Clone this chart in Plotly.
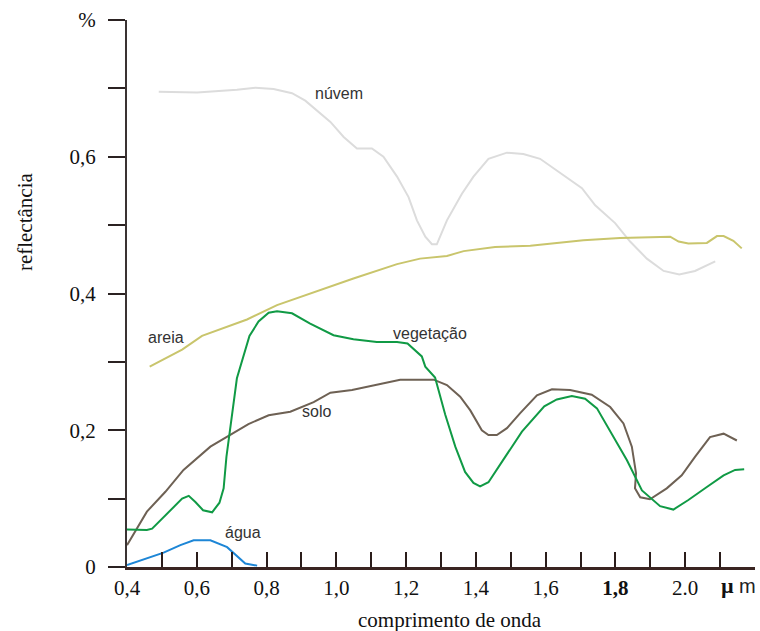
import plotly.graph_objects as go

# ---- data (wavelength in µm, reflectance as fraction) ----
nuvem_x = [0.491, 0.601, 0.715, 0.768, 0.820, 0.873, 0.911, 0.983, 1.021, 1.059, 1.102, 1.135,
           1.174, 1.207, 1.231, 1.255, 1.274, 1.288, 1.317, 1.360, 1.393, 1.436, 1.489, 1.536,
           1.584, 1.651, 1.704, 1.742, 1.799, 1.842, 1.890, 1.938, 1.983, 2.028, 2.086]
nuvem_y = [0.695, 0.694, 0.698, 0.701, 0.699, 0.693, 0.682, 0.651, 0.629, 0.612, 0.612, 0.600,
           0.571, 0.541, 0.507, 0.483, 0.472, 0.472, 0.507, 0.546, 0.571, 0.597, 0.606, 0.604,
           0.597, 0.573, 0.554, 0.529, 0.503, 0.476, 0.451, 0.433, 0.428, 0.433, 0.447]

areia_x = [0.465, 0.558, 0.615, 0.744, 0.830, 0.935, 1.049, 1.174, 1.240, 1.317, 1.365, 1.455,
           1.556, 1.708, 1.813, 1.957, 1.981, 2.009, 2.062, 2.091, 2.110, 2.138, 2.162]
areia_y = [0.293, 0.318, 0.338, 0.362, 0.383, 0.402, 0.422, 0.443, 0.451, 0.455, 0.462, 0.468,
           0.470, 0.478, 0.481, 0.483, 0.476, 0.473, 0.474, 0.484, 0.484, 0.477, 0.466]

veg_x = [0.400, 0.457, 0.472, 0.524, 0.558, 0.577, 0.596, 0.618, 0.644, 0.665, 0.677, 0.685,
         0.696, 0.715, 0.751, 0.777, 0.806, 0.830, 0.873, 0.925, 0.992, 1.049, 1.116, 1.174,
         1.204, 1.245, 1.255, 1.283, 1.312, 1.341, 1.369, 1.393, 1.412, 1.436, 1.484, 1.532,
         1.596, 1.632, 1.675, 1.713, 1.747, 1.790, 1.833, 1.876, 1.928, 1.966, 2.009, 2.062,
         2.110, 2.143, 2.169]
veg_y = [0.055, 0.054, 0.056, 0.082, 0.100, 0.104, 0.095, 0.083, 0.080, 0.094, 0.115, 0.161,
         0.205, 0.276, 0.338, 0.359, 0.372, 0.374, 0.371, 0.356, 0.339, 0.333, 0.329, 0.329,
         0.327, 0.308, 0.293, 0.277, 0.223, 0.176, 0.139, 0.123, 0.118, 0.124, 0.161, 0.198,
         0.235, 0.245, 0.250, 0.246, 0.232, 0.195, 0.156, 0.112, 0.089, 0.084, 0.098, 0.117,
         0.134, 0.142, 0.143]

solo_x = [0.400, 0.457, 0.510, 0.562, 0.639, 0.696, 0.748, 0.806, 0.868, 0.935, 0.983, 1.045,
          1.116, 1.183, 1.279, 1.317, 1.355, 1.384, 1.417, 1.436, 1.460, 1.489, 1.527, 1.575,
          1.618, 1.670, 1.732, 1.785, 1.823, 1.847, 1.859, 1.856, 1.871, 1.899, 1.947, 1.990,
          2.028, 2.071, 2.110, 2.148]
solo_y = [0.032, 0.081, 0.110, 0.142, 0.176, 0.193, 0.209, 0.222, 0.227, 0.241, 0.255, 0.259,
          0.267, 0.274, 0.274, 0.266, 0.249, 0.229, 0.200, 0.193, 0.193, 0.203, 0.225, 0.251,
          0.260, 0.259, 0.252, 0.234, 0.210, 0.176, 0.137, 0.115, 0.102, 0.099, 0.115, 0.134,
          0.161, 0.190, 0.195, 0.185]

agua_x = [0.400, 0.505, 0.553, 0.591, 0.639, 0.687, 0.739, 0.773]
agua_y = [0.003, 0.021, 0.032, 0.039, 0.039, 0.029, 0.005, 0.002]

x_tickvals = [0.4, 0.5, 0.6, 0.7, 0.8, 0.9, 1.0, 1.1, 1.2, 1.3, 1.4, 1.5, 1.6, 1.7, 1.8, 1.9,
              2.0, 2.1, 2.2]
x_ticktext = ["0,4", "", "0,6", "", "0,8", "", "1,0", "", "1,2", "", "1,4", "", "1,6", "",
              "<b>1,8</b>", "", "2.0", "", ""]
y_tickvals = [0, 0.1, 0.2, 0.3, 0.4, 0.5, 0.6, 0.7, 0.8]
y_ticktext = ["0", "", "0,2", "", "0,4", "", "0,6", "", "%"]

series = [
    ("núvem", nuvem_x, nuvem_y, "#dcdcdc"),
    ("areia", areia_x, areia_y, "#c9c56c"),
    ("solo", solo_x, solo_y, "#6e6154"),
    ("vegetação", veg_x, veg_y, "#109a45"),
    ("água", agua_x, agua_y, "#1d86d6"),
]

labels = [
    ("núvem", 1.008, 0.693),
    ("areia", 0.511, 0.335),
    ("vegetação", 1.269, 0.342),
    ("solo", 0.944, 0.227),
    ("água", 0.733, 0.050),
]

SERIF = "Liberation Serif, Times New Roman, serif"
SANS = "Liberation Sans, Arial, sans-serif"

fig = go.Figure()
for name, xs, ys, col in series:
    fig.add_trace(go.Scatter(x=xs, y=ys, mode="lines", name=name,
                             line=dict(color=col, width=2), showlegend=False,
                             hoverinfo="skip"))

for txt, lx, ly in labels:
    fig.add_annotation(x=lx, y=ly, text=txt, showarrow=False,
                       font=dict(family=SANS, size=16, color="#333333"),
                       xanchor="center", yanchor="middle")

# unit label at the end of the x axis
fig.add_annotation(x=2.12, yref="paper", y=-0.034, text="<b>µ</b>", showarrow=False,
                   font=dict(family=SERIF, size=22, color="#111111"),
                   xanchor="center", yanchor="middle")
fig.add_annotation(x=2.178, yref="paper", y=-0.034, text="m", showarrow=False,
                   font=dict(family=SANS, size=20, color="#222222"),
                   xanchor="center", yanchor="middle")

# axis titles
fig.add_annotation(xref="paper", yref="paper", x=0.514, y=-0.097,
                   text="comprimento de onda", showarrow=False,
                   font=dict(family=SERIF, size=21, color="#111111"),
                   xanchor="center", yanchor="middle")
fig.add_annotation(xref="paper", yref="paper", x=-0.162, y=0.631,
                   text="reflectância", showarrow=False, textangle=-90,
                   font=dict(family=SERIF, size=21, color="#111111"),
                   xanchor="center", yanchor="middle")

fig.update_layout(
    width=760, height=631,
    margin=dict(l=127, r=5, t=20, b=64),
    paper_bgcolor="white", plot_bgcolor="white",
    xaxis=dict(range=[0.4, 2.2], tickvals=x_tickvals, ticktext=x_ticktext,
               ticks="inside", ticklen=15, tickwidth=2, tickcolor="#2b1d1b",
               showline=True, linecolor="#3a2522", linewidth=2.5,
               showgrid=False, zeroline=False, ticklabelstandoff=0,
               tickfont=dict(family=SERIF, size=21, color="#111111")),
    yaxis=dict(range=[0, 0.8], tickvals=y_tickvals, ticktext=y_ticktext,
               ticks="outside", ticklen=17, tickwidth=2, tickcolor="#2b2222",
               showline=True, linecolor="#3a3333", linewidth=2,
               showgrid=False, zeroline=False, ticklabelstandoff=8,
               tickfont=dict(family=SERIF, size=21, color="#111111")),
)

fig.write_html("out.html")
